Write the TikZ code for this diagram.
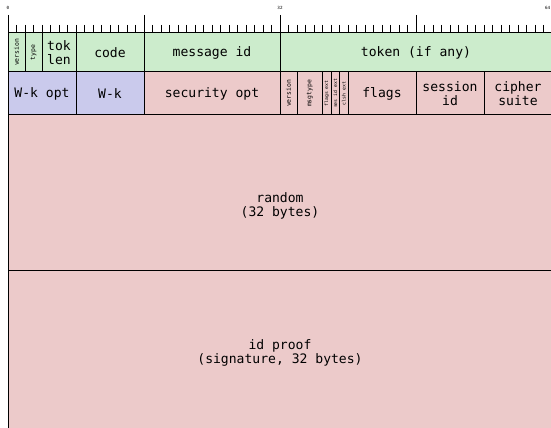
\documentclass[tikz,border=0pt]{standalone}
\usepackage{fontspec}
\setmonofont{DejaVu Sans Mono}
\usetikzlibrary{positioning}

\definecolor{hdrgreen}{RGB}{204,236,204}
\definecolor{wkblue}{RGB}{202,202,236}
\definecolor{secpink}{RGB}{236,202,202}

\newlength{\bitw}\setlength{\bitw}{6.375pt}
\newcommand{\tinytxt}[1]{\rotatebox{90}{\fontsize{4.8}{5}\selectfont #1}}
\newcommand{\minitxt}[1]{\rotatebox{90}{\fontsize{3.6}{4}\selectfont #1}}
\newcommand{\twolines}[3]{\raisebox{#1}[\height][\depth]{\begin{tabular}{@{}c@{}}#2\\#3\end{tabular}}}

\begin{document}
\begin{tikzpicture}[
        x=0.75pt, y=-0.75pt,
        node distance=0pt,
        field/.style={rectangle, draw, line width=0.75pt, inner sep=0pt, outer sep=0pt, text centered, align=center, font=\ttfamily\fontsize{9.8}{10.6}\selectfont},
        bits/.style={minimum width=#1*\bitw},
        row1/.style={field, fill=hdrgreen, minimum height=29.25pt},
        row2/.style={field, minimum height=32.25pt},
        tick/.style={line width=0.75pt},
        bitnum/.style={font=\ttfamily\fontsize{3.2}{3.5}\selectfont, inner sep=0pt}
    ]
        \useasboundingbox (0,0) rectangle (551,428);

        % Bit ruler
        \foreach \b in {0,...,63}
            \draw[tick] (8+\b*8.5,25) -- (8+\b*8.5,33);
        \foreach \b in {0,16,32,48}
            \draw[tick] (8+\b*8.5,15) -- (8+\b*8.5,33);
        \foreach \b in {0,32}
            \node[bitnum] (bit\b) at (8+\b*8.5,8) {\b};
        \node[bitnum, anchor=east] (bit64) at (550.5,8) {64};

        % First row (header)
        \node[row1, bits=2, anchor=north west] (version) at (8,33) {\tinytxt{version}};
        \node[row1, bits=2, right=of version] (type) {\tinytxt{type}};
        \node[row1, bits=4, right=of type] (toklen) {tok\\len};
        \node[row1, bits=8, right=of toklen] (code) {code};
        \node[row1, bits=16, right=of code] (msgid) {message id};
        \node[row1, bits=32, right=of msgid] (token) {token (if any)};

        % Second row (options)
        \node[row2, bits=8, fill=wkblue, anchor=north west] (wkopt) at (version.south west) {W-k opt};
        \node[row2, bits=8, fill=wkblue, right=of wkopt] (wk) {W-k};
        \node[row2, bits=16, fill=secpink, right=of wk] (secopt) {security opt};
        \node[row2, bits=2, fill=secpink, right=of secopt] (secversion) {\tinytxt{version}};
        \node[row2, bits=3, fill=secpink, right=of secversion] (msgtype) {\tinytxt{msgtype}};
        \node[row2, bits=1, fill=secpink, right=of msgtype] (flagsext) {\minitxt{flags ext}};
        \node[row2, bits=1, fill=secpink, right=of flagsext] (sesidext) {\minitxt{ses id ext}};
        \node[row2, bits=1, fill=secpink, right=of sesidext] (clshext) {\minitxt{clsh ext}};
        \node[row2, bits=8, fill=secpink, right=of clshext] (flags) {flags};
        \node[row2, bits=8, fill=secpink, right=of flags] (sessionid) {session\\id};
        \node[row2, bits=8, fill=secpink, right=of sessionid] (ciphersuite) {cipher\\suite};

        % Random and proof
        \node[field, bits=64, fill=secpink, minimum height=117pt, anchor=north west] (random) at (wkopt.south west) {\twolines{-10pt}{random}{(32 bytes)}};
        \node[field, bits=64, fill=secpink, minimum height=118.5pt, anchor=north west] (idproof) at (random.south west) {\twolines{-3pt}{id proof}{(signature, 32 bytes)}};

    \end{tikzpicture}
\end{document}
